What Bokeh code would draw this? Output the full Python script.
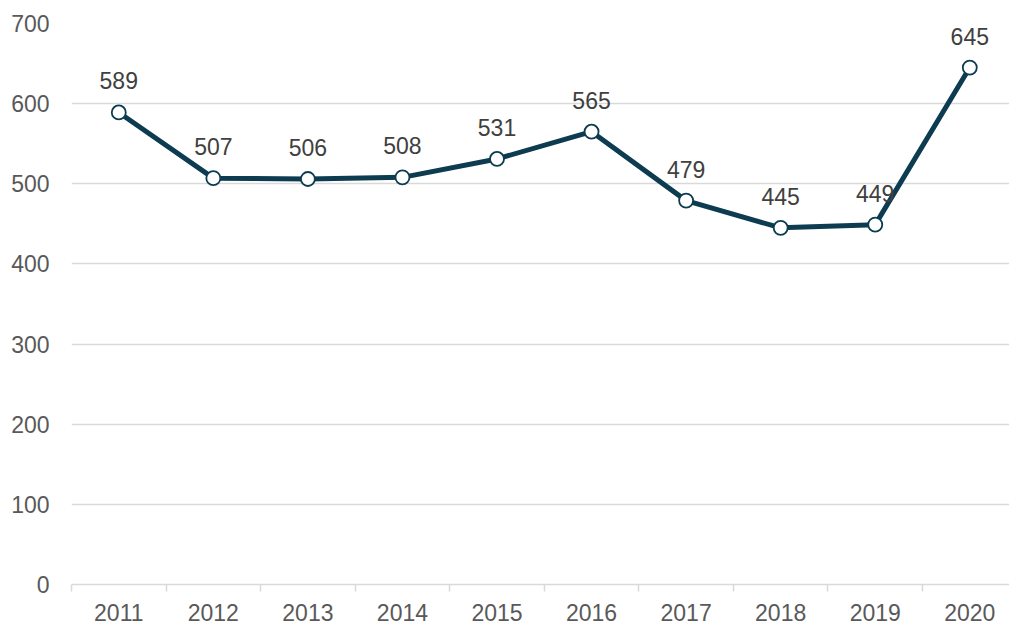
from bokeh.plotting import figure
from bokeh.models import ColumnDataSource, Range1d, FixedTicker, LabelSet
from bokeh.core.properties import value
from bokeh.embed import file_html
from bokeh.resources import INLINE

years = ["2011", "2012", "2013", "2014", "2015", "2016", "2017", "2018", "2019", "2020"]
values = [589, 507, 506, 508, 531, 565, 479, 445, 449, 645]
y_ticks = [0, 100, 200, 300, 400, 500, 600, 700]

xs = list(range(len(years)))
src = ColumnDataSource(dict(x=xs, y=values, lab=[str(v) for v in values]))

p = figure(width=1009, height=624, output_backend="svg", toolbar_location=None,
           x_range=Range1d(-0.5, 9.42), y_range=Range1d(0, 700),
           min_border_left=71, min_border_right=0, min_border_top=23, min_border_bottom=40)
p.outline_line_color = None
p.background_fill_color = "white"
p.border_fill_color = "white"

FONT = "Liberation Sans"
FS = "23px"

# grid
p.xgrid.grid_line_color = None
p.ygrid.ticker = FixedTicker(ticks=y_ticks[1:])
p.ygrid.grid_line_color = "#d9d9d9"
p.ygrid.grid_line_width = 1.5

# y axis
p.yaxis.ticker = FixedTicker(ticks=y_ticks)
p.yaxis.axis_line_color = None
p.yaxis.major_tick_line_color = None
p.yaxis.minor_tick_line_color = None
p.yaxis.major_tick_out = 0
p.yaxis.major_tick_in = 0
p.yaxis.major_label_text_font = FONT
p.yaxis.major_label_text_font_size = FS
p.yaxis.major_label_text_color = "#595959"
p.yaxis.major_label_standoff = 22

# x axis
p.xaxis.ticker = FixedTicker(ticks=xs, minor_ticks=[i - 0.5 for i in range(len(years) + 1)])
p.xaxis.major_label_overrides = {i: y for i, y in enumerate(years)}
p.xaxis.axis_line_color = "#d9d9d9"
p.xaxis.axis_line_width = 1.5
p.xaxis.major_tick_line_color = None
p.xaxis.major_tick_out = 0
p.xaxis.major_tick_in = 0
p.xaxis.minor_tick_line_color = "#d9d9d9"
p.xaxis.minor_tick_line_width = 1.5
p.xaxis.minor_tick_out = 7
p.xaxis.minor_tick_in = 0
p.xaxis.major_label_text_font = FONT
p.xaxis.major_label_text_font_size = FS
p.xaxis.major_label_text_color = "#595959"
p.xaxis.major_label_standoff = 12

color = "#0d3c51"
p.line("x", "y", source=src, line_color=color, line_width=5)
p.scatter("x", "y", source=src, size=14, fill_color="white", line_color=color, line_width=1.8)

labels = LabelSet(x="x", y="y", text="lab", source=src, x_offset=0, y_offset=23,
                  text_align="center", text_baseline="alphabetic",
                  text_font=value(FONT), text_font_size=value(FS), text_color="#404040")
p.add_layout(labels)

open("out.html", "w").write(file_html(p, INLINE))
